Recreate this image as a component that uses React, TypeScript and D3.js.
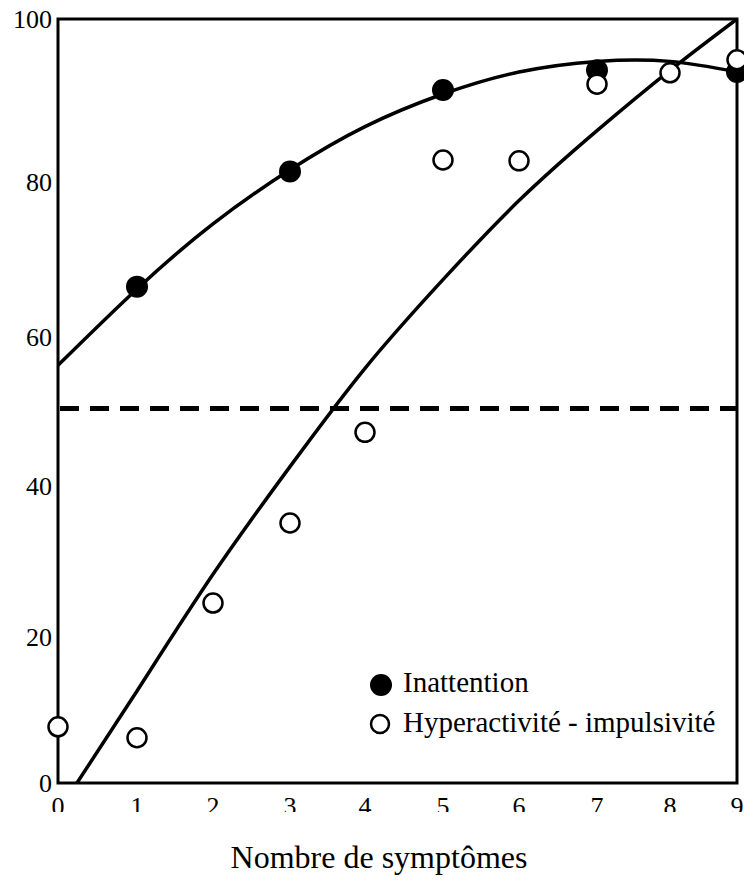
import React from "react";
import * as d3 from "d3";

// ---- data ----
const symptomTicks = [0, 1, 2, 3, 4, 5, 6, 7, 8, 9];
const percentTicks = [0, 20, 40, 60, 80, 100];

const inattentionX = [1, 3, 5, 7, 9];
const inattentionY = [66.5, 81.3, 91.3, 93.7, 93.5];

const hyperX = [0, 1, 2, 3, 4, 5, 6, 7, 8, 9];
const hyperY = [7.7, 6.2, 24.5, 35.1, 47.2, 82.7, 82.6, 92.0, 93.4, 95.0];

// fitted trend curves
const inattentionFitX = [0, 1, 2, 3, 4, 5, 6, 7, 8, 9];
const inattentionFitY = [56.2, 66.2, 74.6, 81.5, 86.8, 90.8, 93.5, 94.8, 94.8, 93.5];
const hyperFitX = [0.24, 1, 2, 3, 4, 5, 6, 7, 8, 9];
const hyperFitY = [0, 12.6, 28.3, 42.6, 55.8, 67.4, 77.6, 86.3, 93.7, 100];

const thresholdValue = 50;

const legendLabels = ["Inattention", "Hyperactivité - impulsivité"];
const xTitle = "Nombre de symptômes";

// ---- layout ----
const W = 744;
const H = 888;
const left = 58;
const right = 737;
const top = 19;
const bottom = 783;
// axis calibration of the (scanned) original
const xCal = [58, 137, 213, 290, 365, 443, 519, 597, 670, 737];
const yCal = [783, 637, 486, 337, 182, 19];

const FONT = "'Liberation Serif', 'Times New Roman', serif";

export default function App() {
  const x = d3.scaleLinear().domain(symptomTicks).range(xCal);
  const y = d3.scaleLinear().domain(percentTicks).range(yCal);

  const line = d3
    .line<[number, number]>()
    .x((d) => x(d[0]))
    .y((d) => y(d[1]))
    .curve(d3.curveNatural);

  const inFit = line(inattentionFitX.map((v, i) => [v, inattentionFitY[i]] as [number, number])) || "";
  const hyFit = line(hyperFitX.map((v, i) => [v, hyperFitY[i]] as [number, number])) || "";

  return (
    <svg
      width={W}
      height={H}
      style={{ position: "absolute", left: 0, top: 0, background: "#fff" }}
      fontFamily={FONT}
    >
      <defs>
        <clipPath id="xlab">
          <rect x={0} y={bottom} width={W} height={29} />
        </clipPath>
        <clipPath id="plot">
          <rect x={left} y={top} width={right - left} height={bottom - top} />
        </clipPath>
      </defs>
      <rect width={W} height={H} fill="#fff" />

      {/* threshold dashed line */}
      <line
        x1={left}
        x2={right}
        y1={y(thresholdValue) - 3}
        y2={y(thresholdValue) - 3}
        stroke="#000"
        strokeWidth={5}
        strokeDasharray="19 11"
        strokeDashoffset={-2}
      />

      {/* fitted curves */}
      <g clipPath="url(#plot)">
        <path d={inFit} fill="none" stroke="#000" strokeWidth={3.5} />
        <path d={hyFit} fill="none" stroke="#000" strokeWidth={3.5} />
      </g>

      {/* frame */}
      <rect
        x={left}
        y={top}
        width={right - left}
        height={bottom - top}
        fill="none"
        stroke="#000"
        strokeWidth={3}
      />

      {/* y tick labels */}
      {percentTicks.map((t) => (
        <text
          key={"y" + t}
          x={52}
          y={y(t)}
          dy="0.34em"
          textAnchor="end"
          fontSize={26}
          fill="#000"
        >
          {t}
        </text>
      ))}

      {/* x tick labels (bottom clipped as in the original) */}
      <g clipPath="url(#xlab)">
        {symptomTicks.map((t) => (
          <text
            key={"x" + t}
            x={x(t)}
            y={815}
            textAnchor="middle"
            fontSize={26}
            fill="#000"
          >
            {t}
          </text>
        ))}
      </g>

      {/* x title */}
      <text x={379} y={868} textAnchor="middle" fontSize={32} fill="#000">
        {xTitle}
      </text>

      {/* points */}
      {inattentionX.map((v, i) => (
        <circle key={"in" + i} cx={x(v)} cy={y(inattentionY[i])} r={11} fill="#000" />
      ))}
      {hyperX.map((v, i) => (
        <circle
          key={"hy" + i}
          cx={x(v)}
          cy={y(hyperY[i])}
          r={9.5}
          fill="#fff"
          stroke="#000"
          strokeWidth={2.5}
        />
      ))}

      {/* legend */}
      <circle cx={381} cy={685} r={11} fill="#000" />
      <text x={403} y={692} fontSize={29} fill="#000">
        {legendLabels[0]}
      </text>
      <circle cx={380} cy={724} r={9} fill="#fff" stroke="#000" strokeWidth={2.5} />
      <text x={403} y={732} fontSize={29} fill="#000">
        {legendLabels[1]}
      </text>
    </svg>
  );
}
